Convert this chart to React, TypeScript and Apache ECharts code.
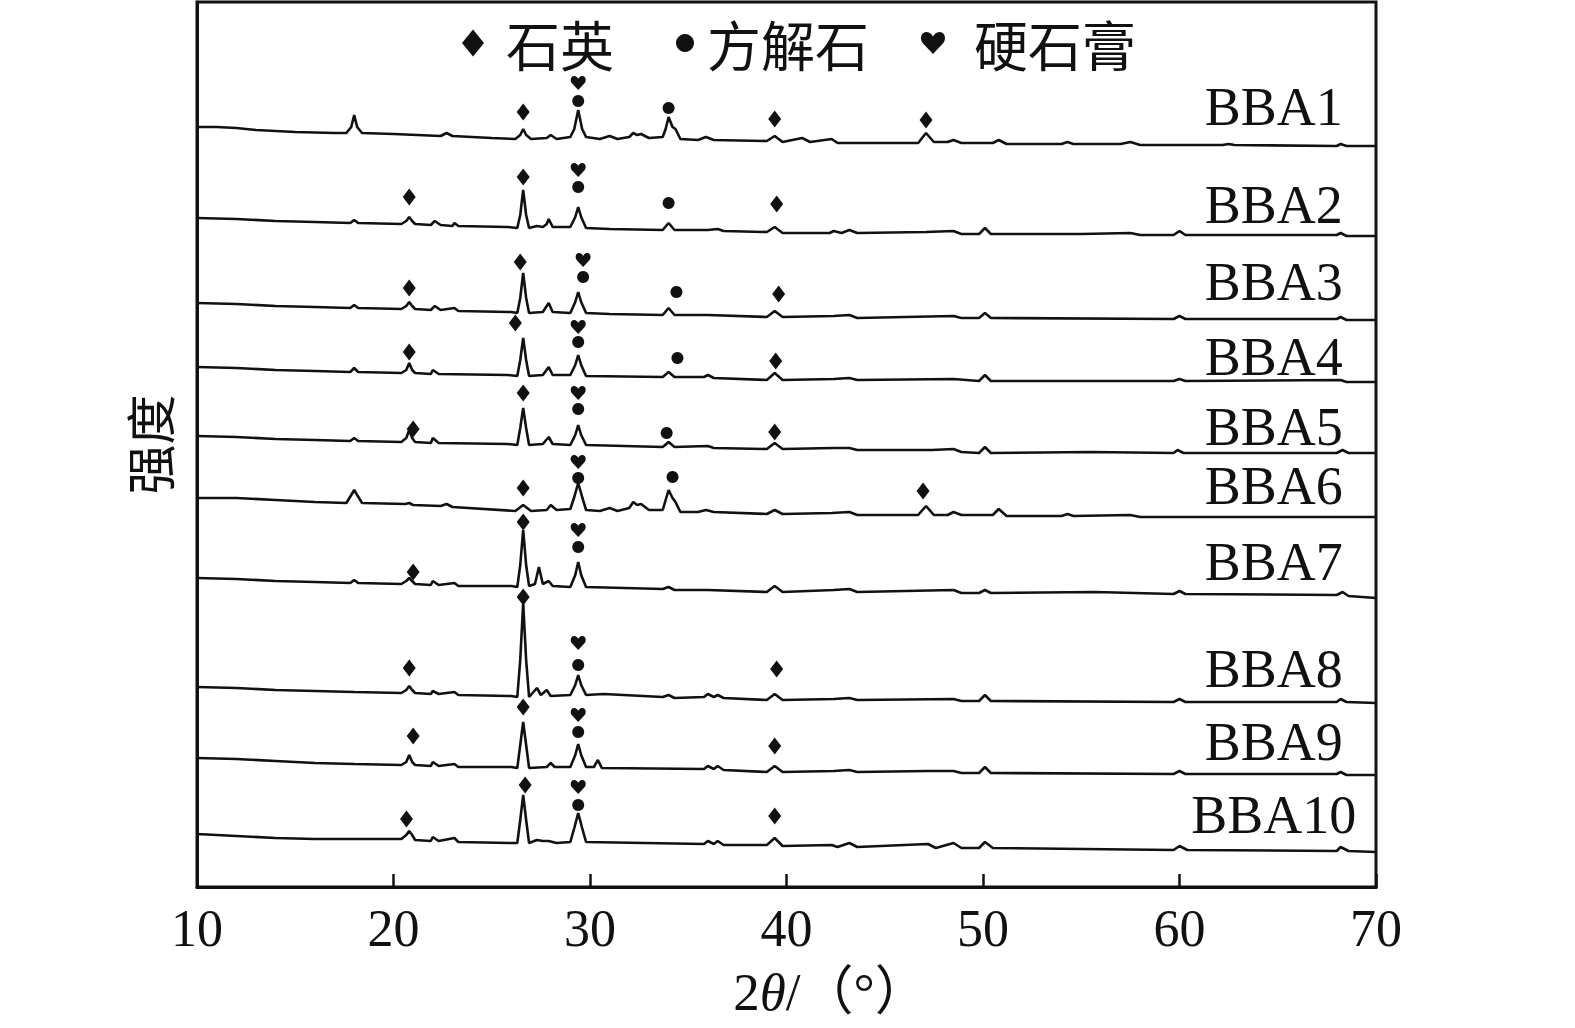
import React, { useEffect, useRef } from "react";
import * as echarts from "echarts";

// ---------- data (2θ in degrees, intensity in arbitrary units with stacking offsets) ----------
const samples = ["BBA1", "BBA2", "BBA3", "BBA4", "BBA5", "BBA6", "BBA7", "BBA8", "BBA9", "BBA10"];
const xTicks = [10, 20, 30, 40, 50, 60, 70];
const minerals = ["石英", "方解石", "硬石膏"];

const BBA1 = [[10,760],[11,760],[12,759],[13,757],[15,755],[17,754],[17.6,754],[17.85,760],[18.0,772],[18.15,760],[18.4,754],[20,753],[22.4,751],[22.7,754],[23.0,751],[25,749],[26.2,748],[26.45,752],[26.6,758],[26.75,752],[27.0,748],[27.8,749],[28.0,752],[28.3,748],[29.0,750],[29.2,758],[29.4,777],[29.6,758],[29.8,750],[30.5,748],[31.0,751],[31.4,748],[32.0,750],[32.2,754],[32.4,752],[32.6,753],[33.0,749],[33.7,750],[33.85,758],[34.0,770],[34.2,760],[34.35,758],[34.6,748],[35.5,747],[35.9,750],[36.3,747],[39.0,746],[39.4,751],[39.8,745],[40.8,749],[41.2,745],[42.3,748],[42.6,744],[46.7,744],[47.1,754],[47.5,745],[48.2,745],[48.5,747],[48.9,744],[50.5,744],[50.8,747],[51.2,743],[54.0,743],[54.3,745],[54.6,743],[57.0,743],[57.5,745],[58.0,742],[62.2,742],[62.5,743],[62.8,742],[68.0,741],[68.2,743],[68.5,741],[70,741]];
const BBA2 = [[10,669],[12,668],[14,666],[16,665],[17.8,664],[18.0,667],[18.2,664],[20.4,663],[20.65,666],[20.8,670],[20.95,666],[21.1,663],[21.9,662],[22.1,666],[22.4,662],[23.0,661],[23.1,664],[23.3,661],[25.8,660],[26.3,659],[26.45,672],[26.6,697],[26.75,672],[26.9,659],[27.3,661],[27.6,660],[27.8,663],[27.9,668],[28.1,660],[29.0,660],[29.25,670],[29.4,680],[29.55,670],[29.8,659],[31,658],[33.7,657],[34.0,664],[34.3,657],[36,657],[36.5,658],[36.8,656],[39.0,655],[39.4,660],[39.8,654],[42.2,654],[42.4,656],[42.8,654],[43.2,657],[43.6,654],[47.1,655],[48.5,656],[48.9,653],[49.8,653],[50.1,659],[50.4,653],[55,653],[57.5,654],[58,652],[59.7,652],[60.0,656],[60.3,652],[64,652],[68.0,652],[68.2,654],[68.5,651],[70,651]];
const BBA3 = [[10,584],[12,583],[14,581],[16,580],[17.8,579],[18.0,582],[18.2,579],[20.4,578],[20.65,581],[20.8,585],[20.95,581],[21.1,578],[21.9,577],[22.1,581],[22.4,577],[23.1,579],[23.3,576],[26.0,575],[26.3,574],[26.45,589],[26.6,614],[26.75,589],[26.9,574],[27.6,575],[27.9,584],[28.1,575],[29.0,574],[29.25,585],[29.4,595],[29.55,585],[29.8,574],[31,573],[33.7,572],[34.0,579],[34.3,572],[36,572],[39.0,570],[39.4,576],[39.8,570],[42.4,571],[43.2,572],[43.6,569],[48.5,571],[48.9,569],[49.8,569],[50.1,574],[50.4,569],[59.7,568],[60.0,571],[60.3,568],[68.0,568],[68.2,570],[68.5,567],[70,567]];
const BBA4 = [[10,520],[12,519],[14,517],[16,516],[17.8,515],[18.0,519],[18.2,515],[20.4,514],[20.65,517],[20.8,524],[20.95,517],[21.1,514],[21.9,513],[22.0,517],[22.3,513],[25.8,512],[26.3,511],[26.45,527],[26.6,549],[26.75,527],[26.9,511],[27.6,512],[27.9,520],[28.1,512],[29.0,512],[29.25,522],[29.4,532],[29.55,522],[29.8,511],[33.7,510],[34.0,515],[34.3,510],[35.8,510],[36.0,512],[36.3,509],[39.0,507],[39.4,514],[39.8,507],[42.4,508],[43.2,509],[43.6,507],[48.5,508],[49.8,506],[50.1,512],[50.4,506],[59.7,506],[60.0,508],[60.3,506],[68.2,507],[68.5,505],[70,505]];
const BBA5 = [[10,451],[12,450],[14,448],[16,447],[17.8,446],[18.0,449],[18.2,446],[20.4,445],[20.65,449],[20.8,457],[20.95,449],[21.1,445],[21.9,444],[22.0,449],[22.3,444],[25.8,443],[26.3,442],[26.45,459],[26.6,479],[26.75,459],[26.9,442],[27.6,443],[27.9,450],[28.1,443],[29.0,442],[29.25,452],[29.4,462],[29.55,452],[29.8,442],[33.7,440],[34.0,445],[34.3,440],[36.0,441],[36.3,439],[39.0,438],[39.4,444],[39.8,438],[42.4,439],[43.2,439],[43.6,437],[47.4,437],[48.5,438],[48.9,435],[49.8,434],[50.1,440],[50.4,434],[55.5,435],[59.7,434],[59.9,437],[60.2,434],[68.0,434],[68.3,437],[68.6,434],[70,434]];
const BBA6 = [[10,389],[12,389],[14,387],[16,385],[17.6,384],[17.85,392],[18.0,397],[18.15,392],[18.4,384],[20.6,383],[20.8,384],[21.0,382],[22.4,381],[22.7,383],[23.0,380],[26.2,376],[26.6,382],[27.0,376],[27.8,377],[28.0,382],[28.3,377],[29.0,378],[29.2,390],[29.4,404],[29.6,390],[29.8,377],[30.5,376],[31.0,379],[31.4,376],[32.0,379],[32.2,385],[32.4,382],[32.6,383],[33.0,377],[33.7,377],[33.85,387],[34.0,397],[34.2,389],[34.35,385],[34.6,375],[35.5,375],[35.9,377],[36.3,375],[39.0,373],[39.4,377],[39.8,373],[42.3,374],[43.2,375],[43.6,372],[46.7,372],[47.1,381],[47.5,372],[48.2,372],[48.5,375],[48.9,372],[50.5,372],[50.8,378],[51.2,371],[54.0,371],[54.3,373],[54.6,371],[57.5,372],[58.0,370],[70,370]];
const BBA7 = [[10,309],[12,308],[14,306],[16,305],[17.8,304],[18.0,307],[18.2,304],[20.4,303],[20.65,306],[20.8,309],[20.95,306],[21.1,303],[21.9,302],[22.0,306],[22.3,302],[23.1,304],[23.3,301],[26.0,301],[26.3,300],[26.45,322],[26.6,357],[26.75,322],[26.9,301],[27.2,303],[27.4,320],[27.6,303],[27.9,306],[28.1,301],[29.0,300],[29.25,312],[29.4,325],[29.55,312],[29.8,300],[33.7,298],[34.0,300],[34.3,297],[36.0,297],[39.0,295],[39.4,301],[39.8,295],[42.4,297],[43.2,298],[43.6,295],[48.5,297],[48.9,294],[49.8,294],[50.1,297],[50.4,294],[55.7,295],[59.7,293],[60.0,296],[60.3,293],[68.0,292],[68.3,295],[68.6,291],[70,289]];
const BBA8 = [[10,200],[12,199],[14,197],[16,196],[18,195],[20.4,194],[20.65,197],[20.8,201],[20.95,197],[21.1,194],[21.9,193],[22.0,196],[22.3,193],[23.1,195],[23.3,192],[26.0,191],[26.3,190],[26.45,227],[26.6,284],[26.75,227],[26.9,190],[27.3,199],[27.5,192],[27.8,197],[28.0,191],[29.0,192],[29.25,202],[29.4,212],[29.55,202],[29.8,192],[30.7,193],[33.7,190],[34.0,192],[34.3,189],[35.8,190],[36.0,193],[36.3,190],[36.5,192],[36.8,189],[39.0,187],[39.4,193],[39.8,187],[42.4,188],[43.2,189],[43.6,187],[48.5,188],[48.9,186],[49.8,186],[50.1,192],[50.4,186],[59.7,185],[60.0,188],[60.3,185],[68.0,185],[68.2,188],[68.5,185],[70,184]];
const BBA9 = [[10,129],[12,128],[14,126],[16,124],[18,123],[20.4,122],[20.65,125],[20.8,132],[20.95,125],[21.1,122],[21.9,121],[22.0,125],[22.3,121],[23.1,123],[23.3,120],[26.0,120],[26.3,119],[26.45,142],[26.6,165],[26.75,142],[26.9,119],[27.8,120],[28.0,124],[28.2,120],[29.0,120],[29.25,132],[29.4,143],[29.55,132],[29.8,120],[30.2,120],[30.4,127],[30.6,119],[35.8,118],[36.0,121],[36.3,118],[36.5,121],[36.8,117],[39.0,115],[39.4,121],[39.8,115],[42.4,116],[43.2,117],[43.6,115],[47.2,116],[48.5,116],[48.9,114],[49.8,114],[50.1,120],[50.4,114],[59.7,113],[60.0,116],[60.3,113],[68.0,113],[68.2,115],[68.5,112],[70,112]];
const BBA10 = [[10,53],[12,51],[14,49],[16,48],[18,48],[20.4,48],[20.65,52],[20.8,56],[20.95,52],[21.1,47],[21.9,46],[22.0,50],[22.3,46],[23.1,49],[23.3,45],[26.0,44],[26.3,44],[26.45,67],[26.6,92],[26.75,67],[26.9,44],[27.3,47],[27.6,46],[27.9,46],[28.3,44],[29.0,45],[29.2,59],[29.4,74],[29.6,59],[29.8,45],[35.8,43],[36.0,46],[36.3,43],[36.5,46],[36.8,42],[39.0,42],[39.4,49],[39.8,41],[42.3,42],[42.6,40],[43.2,44],[43.6,40],[47.2,43],[47.6,39],[48.5,44],[48.9,39],[49.8,39],[50.1,45],[50.5,39],[59.7,37],[60.0,41],[60.4,37],[68.0,36],[68.2,40],[68.6,36],[70,35]];
const traces = [BBA1, BBA2, BBA3, BBA4, BBA5, BBA6, BBA7, BBA8, BBA9, BBA10];

// phase identification marks [2θ, intensity]
const quartzMarks = [[26.6,775],[39.4,768],[47.1,767],[20.8,690],[26.6,710],[39.5,683],[20.8,599],[26.45,625],[39.6,593],[26.2,564],[20.8,535],[39.45,526],[26.6,494],[21.0,458],[39.4,455],[26.6,399],[46.95,396],[26.6,365],[21.0,315],[26.6,290],[20.8,219],[39.5,218],[26.6,180],[21.0,151],[39.4,141],[20.66,68],[26.7,102],[39.4,71]];
const calciteMarks = [[29.4,786],[34.0,779],[29.4,700],[34.0,684],[29.65,610],[34.4,595],[29.4,545],[34.45,529],[29.4,478],[33.9,454],[29.4,409],[34.2,410],[29.4,340],[29.4,222],[29.4,155],[29.4,82]];
const anhydriteMarks = [[29.4,804],[29.4,717],[29.65,627],[29.4,560],[29.4,494],[29.4,425],[29.4,357],[29.4,244],[29.4,172],[29.4,100]];

// sample-name anchors [2θ, intensity]
const labelAnchors = [[64.8,780],[64.8,682],[64.8,605],[64.8,530],[64.8,460],[64.8,401],[64.8,325],[64.8,218],[64.8,145],[64.8,72]];

// ---------- styles ----------
const INK = "#111111";
const SERIF = "'Liberation Serif', 'Times New Roman', serif";
const CJK = "'Noto Sans CJK SC', sans-serif";
const HEART = "path://M50,92 L12,52 C0,38 3,12 24,10 C37,9 46,18 50,27 C54,18 63,9 76,10 C97,12 100,38 88,52 Z";

export default function App() {
  const ref = useRef<HTMLDivElement>(null);

  useEffect(() => {
    if (!ref.current) return;
    const chart = echarts.init(ref.current, null, { renderer: "svg" });

    const lineSeries = traces.map((t, i) => ({
      name: samples[i],
      type: "line",
      data: t,
      showSymbol: false,
      symbol: "none",
      silent: true,
      lineStyle: { color: INK, width: 2.6 },
      z: 2,
    }));

    const legendBase = {
      selectedMode: false,
      orient: "horizontal",
      top: 3,
      textStyle: { fontSize: 54, fontFamily: CJK, color: INK, lineHeight: 56 },
    };

    const markStyle = { color: INK, opacity: 1 };

    chart.setOption({
      animation: false,
      backgroundColor: "#ffffff",
      grid: {
        left: 197,
        right: 199,
        top: 2,
        bottom: 141,
        show: true,
        borderColor: INK,
        borderWidth: 3,
        backgroundColor: "transparent",
      },
      legend: [
        {
          ...legendBase,
          left: 457,
          itemWidth: 22,
          itemHeight: 27,
          data: [{ name: minerals[0], icon: "diamond" }],
          itemStyle: { opacity: 1 },
          textStyle: { ...legendBase.textStyle, padding: [0, 0, 14, 17] },
        },
        {
          ...legendBase,
          left: 671,
          itemWidth: 18,
          itemHeight: 18,
          data: [{ name: minerals[1], icon: "circle" }],
          itemStyle: { opacity: 1 },
          textStyle: { ...legendBase.textStyle, padding: [0, 0, 14, 8] },
        },
        {
          ...legendBase,
          left: 916,
          itemWidth: 24,
          itemHeight: 22,
          data: [{ name: minerals[2], icon: HEART }],
          itemStyle: { opacity: 1 },
          textStyle: { ...legendBase.textStyle, padding: [0, 0, 14, 24] },
        },
      ],
      xAxis: {
        type: "value",
        min: xTicks[0],
        max: xTicks[xTicks.length - 1],
        interval: 10,
        name: "{n|2}{i|θ}{n|/（°）}",
        nameLocation: "middle",
        nameGap: 78,
        nameTextStyle: {
          padding: [0, 0, 0, 88],
          rich: {
            n: { fontSize: 53, fontFamily: "'Liberation Serif', 'Noto Sans CJK SC', serif", color: INK },
            i: { fontSize: 53, fontFamily: SERIF, fontStyle: "italic", color: INK },
          },
        },
        axisLine: { show: true, lineStyle: { color: INK, width: 3 } },
        axisTick: { show: true, inside: true, length: 13, lineStyle: { color: INK, width: 2.5 } },
        axisLabel: { fontSize: 52, fontFamily: SERIF, color: INK, margin: 15 },
        splitLine: { show: false },
      },
      yAxis: {
        type: "value",
        min: 0,
        max: 885,
        name: "强度",
        nameLocation: "middle",
        nameRotate: 90,
        nameGap: 24,
        nameTextStyle: { fontSize: 50, fontFamily: CJK, color: INK },
        axisLine: { show: true, lineStyle: { color: INK, width: 3 } },
        axisTick: { show: false },
        axisLabel: { show: false },
        splitLine: { show: false },
      },
      series: [
        ...lineSeries,
        {
          name: minerals[0],
          type: "scatter",
          data: quartzMarks,
          symbol: "diamond",
          symbolSize: [13, 17],
          itemStyle: markStyle,
          silent: true,
          z: 5,
        },
        {
          name: minerals[1],
          type: "scatter",
          data: calciteMarks,
          symbol: "circle",
          symbolSize: 12,
          itemStyle: markStyle,
          silent: true,
          z: 5,
        },
        {
          name: minerals[2],
          type: "scatter",
          data: anhydriteMarks,
          symbol: HEART,
          symbolSize: [15, 14],
          itemStyle: markStyle,
          silent: true,
          z: 5,
        },
        {
          name: "labels",
          type: "scatter",
          data: labelAnchors.map((p, i) => ({ name: samples[i], value: p })),
          symbolSize: 1,
          itemStyle: { color: "rgba(0,0,0,0)", opacity: 1 },
          silent: true,
          label: {
            show: true,
            position: "inside",
            formatter: "{b}",
            fontSize: 54,
            fontFamily: SERIF,
            color: INK,
            opacity: 1,
            align: "center",
            verticalAlign: "middle",
          },
          labelLayout: { hideOverlap: false },
          z: 6,
        },
      ],
    });

    return () => chart.dispose();
  }, []);

  return (
    <div
      ref={ref}
      style={{ position: "fixed", left: 0, top: 0, width: 1575, height: 1028, background: "#fff" }}
    />
  );
}
